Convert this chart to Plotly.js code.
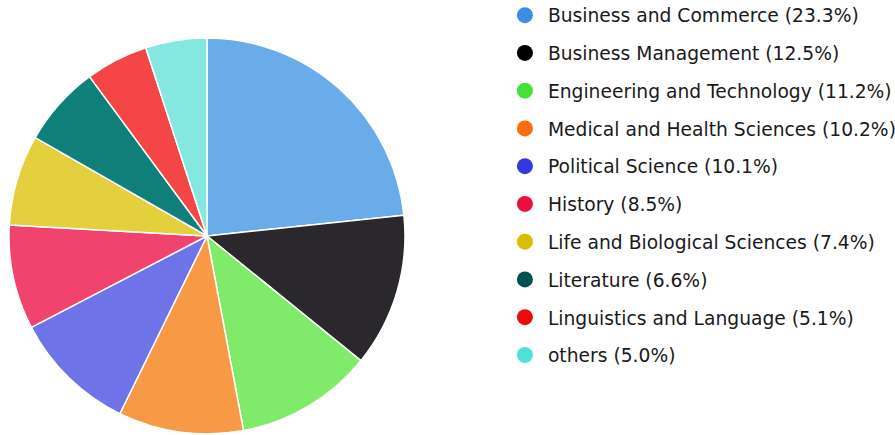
<!DOCTYPE html>
<html><head><meta charset="utf-8">
<script src="https://cdn.plot.ly/plotly-3.0.1.min.js"></script>
<style>html,body{margin:0;padding:0;background:#fff}#chart{width:895px;height:435px}</style>
</head><body><div id="chart"></div>
<script>
const categories = ["Business and Commerce","Business Management","Engineering and Technology","Medical and Health Sciences","Political Science","History","Life and Biological Sciences","Literature","Linguistics and Language","others"];
const shares = [23.3,12.5,11.2,10.2,10.1,8.5,7.4,6.6,5.1,5.0];
const sliceColors = ["#6aabea","#2a282d","#80ea6a","#f89a45","#6e74e8","#f0436e","#e4cf3c","#0f7f7a","#f44646","#84e7e0"];
const legendColors = ["#3b8de5","#000000","#46e03a","#f96d0c","#3339df","#e8103f","#d9bd00","#00524e","#e80c0c","#4fe0d8"];

const traces = [{
  type:"pie", labels:categories, values:shares, sort:false, direction:"clockwise", rotation:0,
  marker:{colors:sliceColors, line:{color:"#ffffff", width:1.5}},
  textinfo:"none", hoverinfo:"none", showlegend:false,
  domain:{x:[9/895, 405/895], y:[1-434/435, 1-38/435]}
}];
categories.forEach((c,i)=>{
  traces.push({type:"scatter", mode:"markers", x:[null], y:[null],
    name: c + " (" + shares[i].toFixed(1) + "%)",
    legendgroup:"g"+i,
    marker:{color:legendColors[i], size:18, symbol:"circle"}, hoverinfo:"none"});
});
const layout = {
  width:895, height:435, margin:{l:0,r:0,t:0,b:0,autoexpand:false},
  paper_bgcolor:"#fff", plot_bgcolor:"#fff",
  xaxis:{visible:false, domain:[0.98,1]}, yaxis:{visible:false},
  showlegend:true,
  legend:{x:0.5608, xanchor:"left", y:1.0081, yanchor:"top",
    font:{family:"DejaVu Sans", size:18.7, color:"#1a1a1a"},
    tracegroupgap:10.45, itemwidth:36, maxheight:1000, bgcolor:"rgba(0,0,0,0)"}
};
Plotly.newPlot("chart", traces, layout, {staticPlot:true});
</script></body></html>
